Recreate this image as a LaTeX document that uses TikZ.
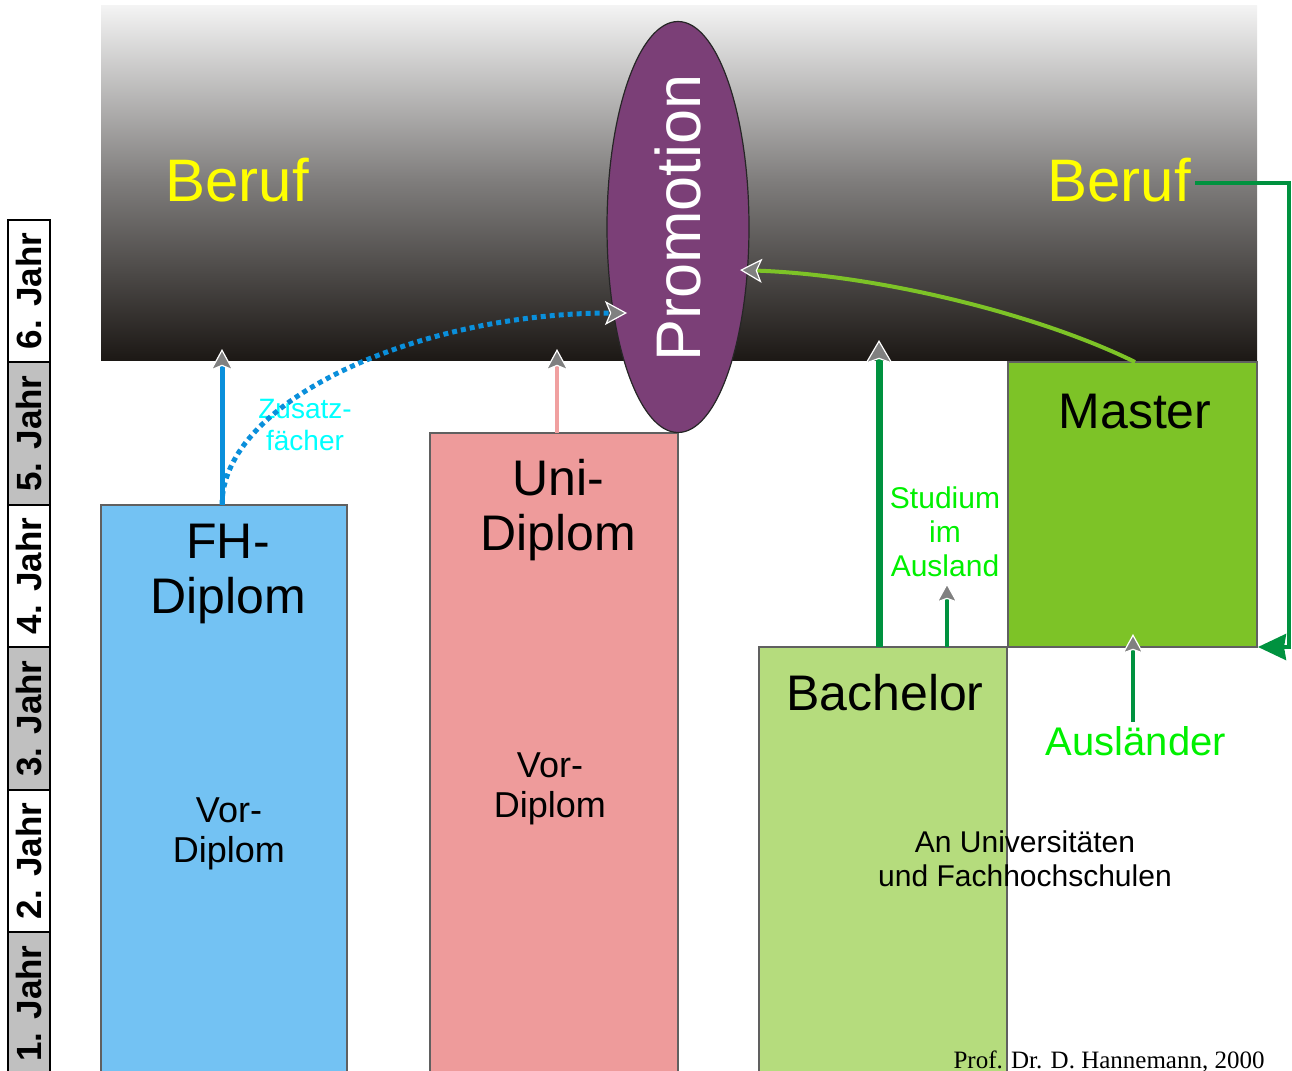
\documentclass[tikz,border=0pt]{standalone}
\usepackage{fontspec}
\setmainfont{Liberation Sans}
\newfontfamily\serifont{Liberation Serif}
\usetikzlibrary{arrows.meta,shapes.geometric}
\definecolor{bandtop}{HTML}{F4F4F4}
\definecolor{bandmid}{HTML}{7E7C7B}
\definecolor{bandbot}{HTML}{1C1815}
\definecolor{yeargray}{HTML}{C0C0C0}
\definecolor{fhblue}{HTML}{73C2F3}
\definecolor{unipink}{HTML}{EE9B9B}
\definecolor{bachgreen}{HTML}{B5DC7D}
\definecolor{mastgreen}{HTML}{7DC327}
\definecolor{boxgray}{HTML}{606060}
\definecolor{promo}{HTML}{7B3F77}
\definecolor{fhline}{HTML}{0A8FDB}
\definecolor{pinkline}{HTML}{F0A0A0}
\definecolor{lightgreen}{HTML}{7DC327}
\definecolor{darkgreen}{HTML}{00923F}
\definecolor{brightgreen}{HTML}{00F000}
\definecolor{cyantext}{HTML}{00FFFF}
\definecolor{berufyellow}{HTML}{FFFF00}
\definecolor{tipgray}{HTML}{808080}
\begin{document}
\begin{tikzpicture}[x=0.5pt,y=-0.5pt,
  box/.style={draw=boxgray, line width=0.6pt, inner sep=0pt, outer sep=0pt, anchor=north west},
  year/.style={draw=black, line width=0.8pt, rotate=90, minimum width=71.25pt, minimum height=21pt,
     inner sep=0pt, font=\fontsize{17.5}{20}\selectfont\bfseries},
  gtip/.style={-{Stealth[length=11pt,width=12pt,inset=2.5pt,fill=tipgray,color=white,line width=0.6pt]}},
  gtipbig/.style={-{Stealth[length=12pt,width=14pt,inset=2.5pt,fill=tipgray,color=white,line width=0.6pt]}},
  gtipsmall/.style={-{Stealth[length=10pt,width=11pt,inset=2pt,fill=tipgray,color=white,line width=0.6pt]}},
  big/.style={font=\fontsize{25}{27.5}\selectfont, align=center, inner sep=1pt},
  mid/.style={font=\fontsize{18}{20}\selectfont, align=center, inner sep=1pt},
  small/.style={font=\fontsize{15}{17}\selectfont, align=center, inner sep=1pt}
]
\useasboundingbox (0,0) rectangle (1292,1071);
\clip (0,0) rectangle (1292,1071);

% background band
\node[anchor=north west, minimum width=578pt, minimum height=177.5pt, inner sep=0pt, outer sep=0pt,
  top color=bandtop, bottom color=bandbot, middle color=bandmid] (band) at (101,5) {};

% year strip
\node[year, fill=white]    (y6) at (29,291)  {6. Jahr};
\node[year, fill=yeargray] (y5) at (29,433.5) {5. Jahr};
\node[year, fill=white]    (y4) at (29,576)  {4. Jahr};
\node[year, fill=yeargray] (y3) at (29,718.5) {3. Jahr};
\node[year, fill=white]    (y2) at (29,861)  {2. Jahr};
\node[year, fill=yeargray] (y1) at (29,1003.5) {1. Jahr};

% boxes
\node[box, fill=fhblue, minimum width=123pt, minimum height=297.5pt] (fh) at (101,505) {};
\node[box, fill=unipink, minimum width=124pt, minimum height=333.5pt] (uni) at (430,433) {};
\node[box, fill=bachgreen, minimum width=124pt, minimum height=226.5pt] (bach) at (759,647) {};
\node[box, fill=mastgreen, minimum width=124.5pt, minimum height=142.5pt] (master) at (1008,362) {};

% Promotion
\node[ellipse, draw=black!85, line width=0.6pt, fill=promo, minimum width=71pt, minimum height=205.5pt,
  inner sep=0pt] (promo) at (678,227) {};
\node[rotate=90, text=white, font=\fontsize{31.5}{36}\selectfont, inner sep=0pt] (promotxt) at (678,218) {Promotion};

% text labels
\node[font=\fontsize{30}{36}\selectfont, text=berufyellow, inner sep=2pt] (beruf1) at (237,180) {Beruf};
\node[font=\fontsize{30}{36}\selectfont, text=berufyellow, inner sep=2pt] (beruf2) at (1119,180) {Beruf};
\node[big] (fhtxt) at (228,574) {FH-\\Diplom};
\node[mid] (fhvor) at (229,834) {Vor-\\Diplom};
\node[big] (unitxt) at (558,510) {Uni-\\Diplom};
\node[mid] (univor) at (550,789) {Vor-\\Diplom};
\node[big] (bachtxt) at (885,693) {Bachelor};
\node[big] (masttxt) at (1135,412) {Master};
\node[small, text=brightgreen, font=\fontsize{15}{17}\selectfont] (ausland) at (945,532) {Studium\\im\\Ausland};
\node[small, text=cyantext, font=\fontsize{14}{16}\selectfont] (zusatz) at (305,425) {Zusatz-\\fächer};
\node[font=\fontsize{20}{24}\selectfont, text=brightgreen, inner sep=2pt] (ausl) at (1136,741) {Ausländer};
\node[small] (an) at (1025,859) {An Universitäten\\und Fachhochschulen};
\node[anchor=base east, font=\serifont\fontsize{12.5}{15}\selectfont, inner sep=0pt] (prof) at (1265,1068)
  {Prof. Dr. D. Hannemann, 2000};

% coordinates
\coordinate (fhTop) at (222,505);
\coordinate (fhEnd) at (222,349);
\coordinate (uniTop) at (557,433);
\coordinate (uniEnd) at (557,349);
\coordinate (promoL) at (627,313);
\coordinate (promoR) at (740,270);
\coordinate (mastTop) at (1135,362);
\coordinate (bachA) at (879,647);
\coordinate (bachAEnd) at (879,340);
\coordinate (bachB) at (947,647);
\coordinate (bachBEnd) at (947,583);
\coordinate (mastBot) at (1133,634);
\coordinate (lA) at (1289,183);
\coordinate (lB) at (1289,647);
\coordinate (lEnd) at (1258,647);

% connectors
\draw[gtip, draw=fhline, line width=2.5pt] (fhTop) -- (fhEnd);
\draw[gtip, draw=pinkline, line width=2pt] (uniTop) -- (uniEnd);
\draw[gtip, draw=fhline, line width=2.5pt, dash pattern=on 2.5pt off 2pt]
  (fhTop) .. controls (222,400) and (420,313) .. (promoL);
\draw[gtip, draw=lightgreen, line width=2pt]
  (mastTop) .. controls (1040,315) and (880,275) .. (promoR);
\draw[gtipbig, draw=darkgreen, line width=3.5pt] (bachA) -- (bachAEnd);
\draw[gtipsmall, draw=darkgreen, line width=2pt] (bachB) -- (bachBEnd);
\draw[gtipsmall, draw=darkgreen, line width=2pt] (ausl.north -| mastBot) -- (mastBot);
\draw[darkgreen, line width=1.8pt, -{Stealth[length=14pt,width=13pt,inset=1pt]}]
  (beruf2.east |- lA) -- (lA) -- (lB) -- (lEnd);
\end{tikzpicture}
\end{document}
